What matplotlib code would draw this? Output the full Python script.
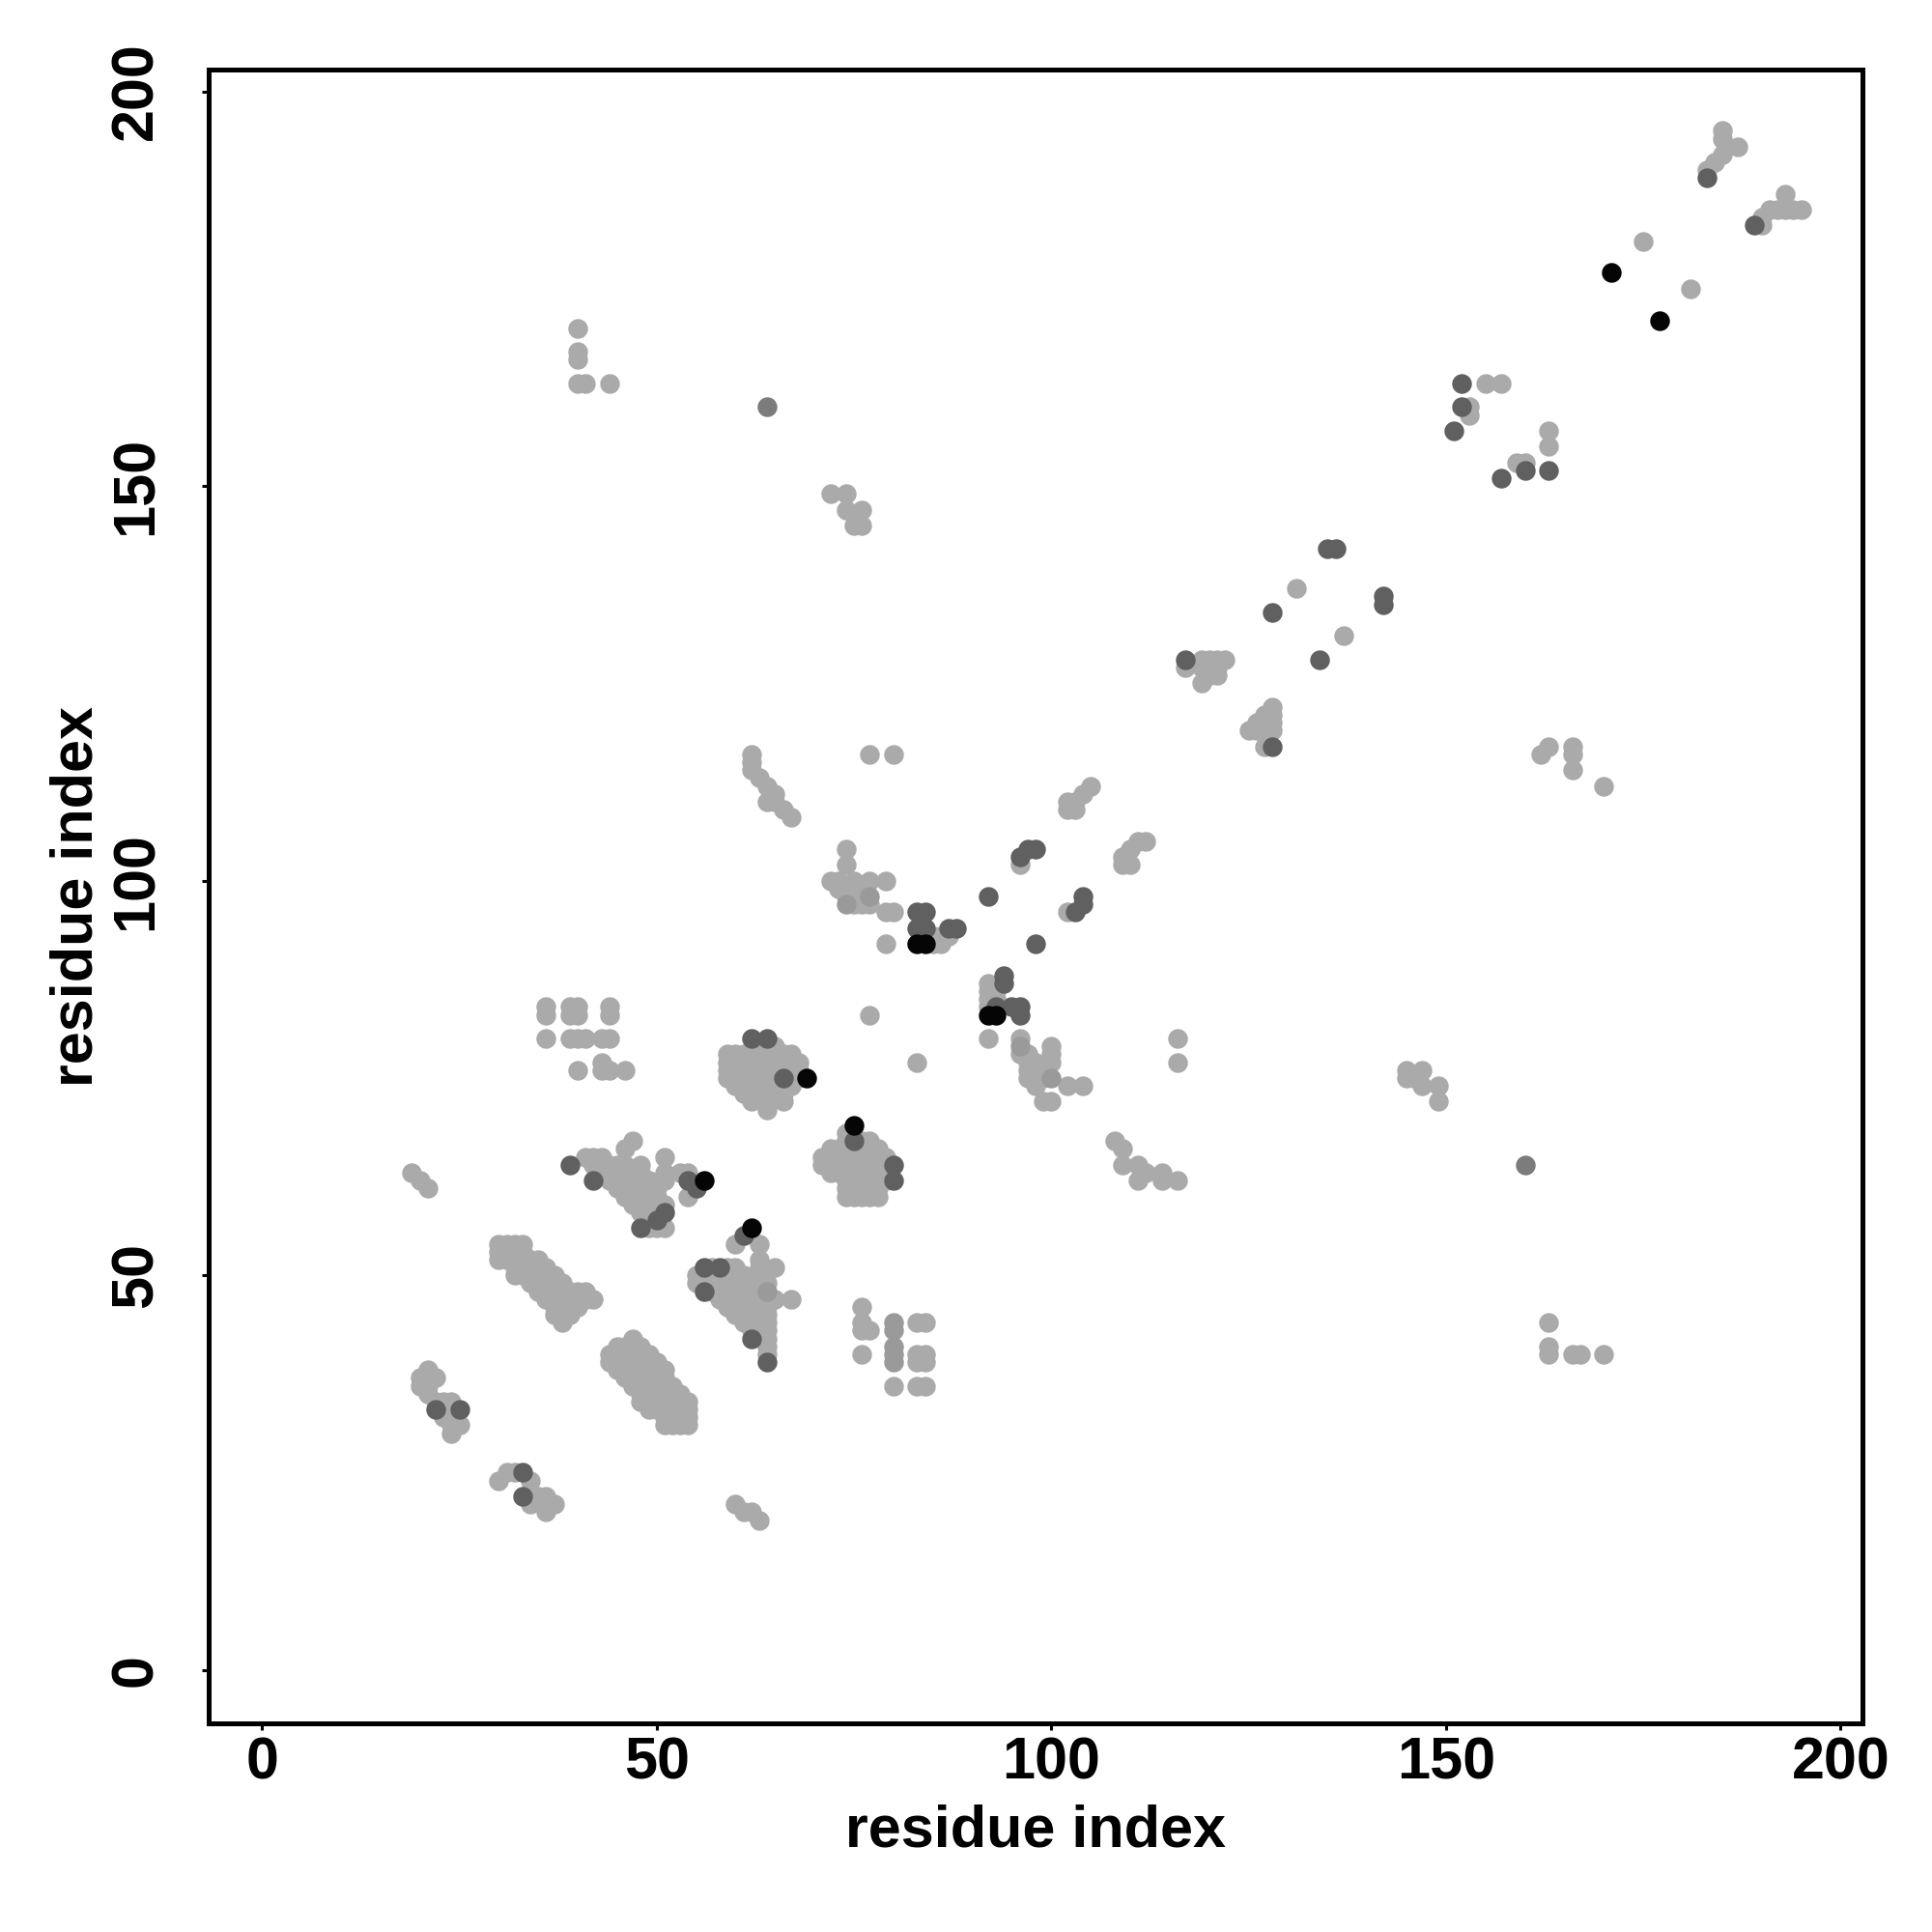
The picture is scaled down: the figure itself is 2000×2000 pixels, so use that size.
import matplotlib
matplotlib.use("Agg")
import matplotlib.pyplot as plt

# contact map: (residue i, residue j) pairs, grouped by shade
black_pts = [
    (171, 177), (177, 171), (75, 69), (69, 75), (62, 56), (56, 62),
    (83, 92), (84, 92), (92, 83), (93, 83),
]

dark_pts = [
    (183, 189), (189, 183),
    (152, 163), (152, 160), (151, 157), (160, 152), (163, 152), (157, 151),
    (135, 142), (136, 142), (142, 136), (142, 135), (128, 134), (134, 128),
    (117, 128), (128, 117),
    (104, 98), (104, 97), (103, 96), (97, 104), (98, 104), (96, 103),
    (92, 98), (98, 92),
    (83, 96), (84, 96), (83, 94), (84, 94), (87, 94), (88, 94),
    (94, 88), (94, 87), (93, 84), (95, 84), (96, 84), (96, 83),
    (62, 80), (64, 80), (66, 75), (75, 67), (80, 64), (80, 62),
    (55, 61), (61, 55), (54, 62), (39, 64), (42, 62),
    (51, 58), (50, 57), (48, 56),
    (56, 51), (58, 51), (56, 48), (62, 42), (64, 39),
    (25, 33), (22, 33), (33, 25), (33, 22),
]

mid_pts = [(160, 64), (64, 160)]

grey_pts = [
    (80, 44), (80, 43), (80, 41), (80, 40), (80, 39), (64, 48),
    (74, 97), (77, 98), (100, 75), (96, 79),
]

light_pts = [
    # upper right near the diagonal
    (185, 195), (185, 194), (187, 193), (185, 192), (184, 191), (183, 190),
    (193, 187), (191, 185), (192, 185), (193, 185), (194, 185), (195, 185),
    (190, 184), (190, 183),
    (175, 181), (181, 175),
    (155, 163), (157, 163), (153, 160), (153, 159), (163, 157), (163, 155),
    (159, 153), (160, 153),
    (131, 137), (137, 131),
    (119, 128), (120, 128), (121, 128), (122, 128), (117, 127), (119, 127),
    (120, 127), (121, 127), (120, 126), (121, 126), (119, 125),
    (128, 122), (127, 121), (128, 121), (126, 120), (127, 120), (128, 120),
    (125, 119), (126, 119), (127, 119), (128, 119), (127, 117),
    (163, 117), (162, 116), (166, 117), (166, 116), (166, 114), (170, 112),
    (105, 112), (104, 111), (103, 110), (102, 110), (102, 109), (103, 109),
    (111, 105), (112, 105), (110, 104), (109, 103), (109, 102), (110, 102),
    (102, 96), (96, 102),
    (62, 116), (62, 115), (62, 114), (63, 113), (64, 112), (65, 111),
    (64, 110), (65, 110), (66, 109), (67, 108),
    (77, 116), (80, 116),
    # upper left off-diagonal
    (72, 149), (74, 149), (74, 147), (76, 147), (75, 145), (76, 145),
    (40, 170), (40, 167), (40, 166), (40, 163), (41, 163), (44, 163),
    # around residue 75-100
    (74, 104), (74, 102), (72, 100), (73, 100), (75, 100), (77, 100), (79, 100),
    (73, 99), (74, 99), (75, 99), (76, 99), (74, 98), (75, 98), (76, 98),
    (75, 97), (76, 97), (77, 97), (79, 96), (80, 96), (79, 92),
    (84, 93), (85, 93), (86, 93), (87, 93), (85, 92), (86, 92),
    (77, 83), (83, 77),
    (92, 87), (92, 86), (93, 86), (92, 85), (93, 85), (92, 84),
    (92, 80),
    (96, 80), (96, 78), (97, 78), (97, 77), (98, 77), (100, 79), (100, 78),
    (100, 77), (97, 76), (98, 76), (99, 76), (97, 75), (98, 75), (99, 75),
    (98, 74), (102, 74), (104, 74), (99, 72), (100, 72),
    (116, 80), (116, 77),
    (145, 76), (147, 76), (145, 75), (146, 75), (147, 74), (149, 74), (149, 72),
    (108, 67), (109, 66), (109, 64), (111, 64), (112, 63), (111, 62),
    (114, 63), (114, 62), (116, 62),
    (163, 44), (163, 41), (163, 40), (166, 40), (167, 40), (170, 40),
    (76, 46), (76, 44), (76, 43), (77, 43), (76, 40), (80, 36),
    (83, 44), (84, 44), (83, 40), (84, 40), (83, 39), (84, 39), (83, 36), (84, 36),
    # left block, residues 36-46
    (36, 84), (36, 83), (39, 84), (40, 84), (39, 83), (40, 83), (44, 84), (44, 83),
    (36, 80), (39, 80), (40, 80), (41, 80), (43, 80), (44, 80),
    (40, 76), (43, 77), (43, 76), (44, 76), (46, 76),
    # block 59-68 x 71-80
    (65, 79),
    (59, 78), (60, 78), (61, 78), (62, 78), (63, 78), (64, 78), (65, 78), (66, 78), (67, 78),
    (59, 77), (60, 77), (61, 77), (62, 77), (63, 77), (64, 77), (65, 77), (66, 77), (67, 77), (68, 77),
    (59, 76), (60, 76), (61, 76), (62, 76), (63, 76), (64, 76), (65, 76), (66, 76), (68, 76),
    (59, 75), (60, 75), (61, 75), (62, 75), (63, 75), (64, 75), (65, 75), (68, 75),
    (60, 74), (61, 74), (62, 74), (63, 74), (64, 74), (65, 74), (66, 74), (67, 74),
    (61, 73), (62, 73), (63, 73), (64, 73), (65, 73), (66, 73),
    (62, 72), (64, 72), (66, 72), (64, 71),
    # block 71-80 x 59-68
    (74, 68),
    (74, 67), (76, 67), (77, 67),
    (72, 66), (73, 66), (74, 66), (76, 66), (77, 66), (78, 66),
    (71, 65), (72, 65), (73, 65), (74, 65), (75, 65), (76, 65), (77, 65), (78, 65), (79, 65),
    (71, 64), (72, 64), (73, 64), (74, 64), (75, 64), (76, 64), (77, 64), (78, 64), (79, 64),
    (72, 63), (73, 63), (74, 63), (75, 63), (76, 63), (77, 63), (78, 63), (79, 63),
    (74, 62), (75, 62), (76, 62), (77, 62), (78, 62), (79, 62),
    (74, 61), (75, 61), (76, 61), (77, 61), (78, 61),
    (74, 60), (75, 60), (76, 60), (77, 60), (78, 60),
    # block 54-67 x 39-54
    (54, 63), (54, 60), (60, 54), (63, 54), (63, 52), (65, 51), (63, 51),
    (57, 51), (59, 51), (60, 51),
    (55, 50), (56, 50), (57, 50), (58, 50), (59, 50), (60, 50), (61, 50),
    (55, 49), (56, 49), (57, 49), (58, 49), (59, 49), (60, 49), (61, 49), (62, 49), (63, 49), (64, 49),
    (57, 48), (58, 48), (59, 48), (60, 48), (61, 48), (62, 48), (63, 48),
    (58, 47), (59, 47), (60, 47), (61, 47), (62, 47), (63, 47), (64, 47), (65, 47), (67, 47),
    (59, 46), (60, 46), (61, 46), (62, 46), (63, 46), (64, 46),
    (60, 45), (61, 45), (62, 45), (63, 45), (64, 45),
    (61, 44), (62, 44), (63, 44), (64, 44),
    (62, 43), (63, 43), (64, 43),
    (64, 42), (64, 41), (64, 40),
    # block 38-54 x 55-67
    (46, 66), (47, 67), (41, 65), (42, 65), (43, 65), (51, 65),
    (42, 64), (43, 64), (44, 64), (45, 64), (46, 64), (48, 64),
    (43, 63), (44, 63), (45, 63), (46, 63), (47, 63), (48, 63), (51, 63), (53, 63),
    (44, 62), (45, 62), (46, 62), (47, 62), (48, 62), (49, 62), (51, 62),
    (45, 61), (46, 61), (47, 61), (48, 61), (49, 61), (50, 61),
    (46, 60), (47, 60), (48, 60), (49, 60), (50, 60),
    (47, 59), (48, 59), (49, 59), (50, 59), (51, 59),
    (48, 58), (49, 58), (50, 58),
    (49, 57), (49, 56), (50, 56), (51, 56),
    # band 30-42 x 44-54
    (30, 54), (31, 54), (32, 54), (33, 54),
    (30, 53), (31, 53), (32, 53), (33, 53),
    (30, 52), (31, 52), (32, 52), (33, 52), (34, 52), (35, 52),
    (32, 51), (33, 51), (34, 51), (35, 51), (36, 51),
    (32, 50), (33, 50), (34, 50), (35, 50), (36, 50), (37, 50),
    (34, 49), (35, 49), (36, 49), (37, 49), (38, 49),
    (35, 48), (36, 48), (37, 48), (38, 48), (39, 48), (40, 48), (41, 48),
    (36, 47), (37, 47), (38, 47), (39, 47), (40, 47), (41, 47), (42, 47),
    (37, 46), (38, 46), (39, 46), (40, 46),
    (37, 45), (38, 45), (39, 45), (38, 44),
    # band 43-54 x 30-42
    (47, 42),
    (45, 41), (46, 41), (47, 41), (48, 41),
    (44, 40), (45, 40), (46, 40), (47, 40), (48, 40), (49, 40),
    (44, 39), (45, 39), (46, 39), (47, 39), (48, 39), (49, 39), (50, 39),
    (45, 38), (46, 38), (47, 38), (48, 38), (49, 38), (50, 38), (51, 38),
    (46, 37), (47, 37), (48, 37), (49, 37), (50, 37), (51, 37),
    (47, 36), (48, 36), (49, 36), (50, 36), (51, 36), (52, 36),
    (48, 35), (49, 35), (50, 35), (51, 35), (52, 35), (53, 35),
    (48, 34), (49, 34), (50, 34), (51, 34), (52, 34), (53, 34), (54, 34),
    (49, 33), (50, 33), (51, 33), (52, 33), (53, 33), (54, 33),
    (51, 32), (52, 32), (53, 32), (54, 32),
    (51, 31), (52, 31), (53, 31), (54, 31),
    # small groups near the N-terminus
    (19, 63), (20, 62), (21, 61),
    (21, 38), (20, 37), (22, 37), (20, 36), (21, 36), (21, 35), (22, 34),
    (23, 34), (24, 34), (23, 32), (24, 31), (25, 31), (24, 30),
    (30, 24), (31, 25), (32, 25), (34, 24), (34, 22), (34, 21), (35, 22),
    (36, 22), (37, 21), (36, 20),
    (60, 21), (61, 20), (62, 20), (63, 19),
]

shades = [
    (light_pts, "#aaaaaa"),
    (grey_pts, "#9a9a9a"),
    (mid_pts, "#7c7c7c"),
    (dark_pts, "#606060"),
    (black_pts, "#050505"),
]

plt.rcParams["font.family"] = ["Liberation Sans", "DejaVu Sans"]
plt.rcParams["font.weight"] = "bold"

fig = plt.figure(figsize=(10, 10), dpi=200)
ax = fig.add_axes([0.108, 0.108, 0.856, 0.856])

for pts, col in shades:
    xs = [p[0] for p in pts]
    ys = [p[1] for p in pts]
    ax.scatter(xs, ys, s=54, c=col, linewidths=0, zorder=3)

ax.set_xlim(-6.76, 202.76)
ax.set_ylim(-6.76, 202.76)

ticks = [0, 50, 100, 150, 200]
ax.set_xticks(ticks)
ax.set_yticks(ticks)
ax.set_xticklabels([str(t) for t in ticks], fontsize=22, fontweight="bold")
ax.set_yticklabels([str(t) for t in ticks], fontsize=22, fontweight="bold",
                   rotation=90, va="center")

for sp in ax.spines.values():
    sp.set_linewidth(1.8)

ax.tick_params(axis="both", direction="out", length=2.5, width=1.1)
ax.tick_params(axis="x", pad=2.2)
ax.tick_params(axis="y", pad=14)

ax.set_xlabel("residue index", fontsize=22, fontweight="bold", labelpad=5)
ax.set_ylabel("residue index", fontsize=22, fontweight="bold", labelpad=1.5)

fig.savefig("out.png", dpi=200, facecolor="white")
